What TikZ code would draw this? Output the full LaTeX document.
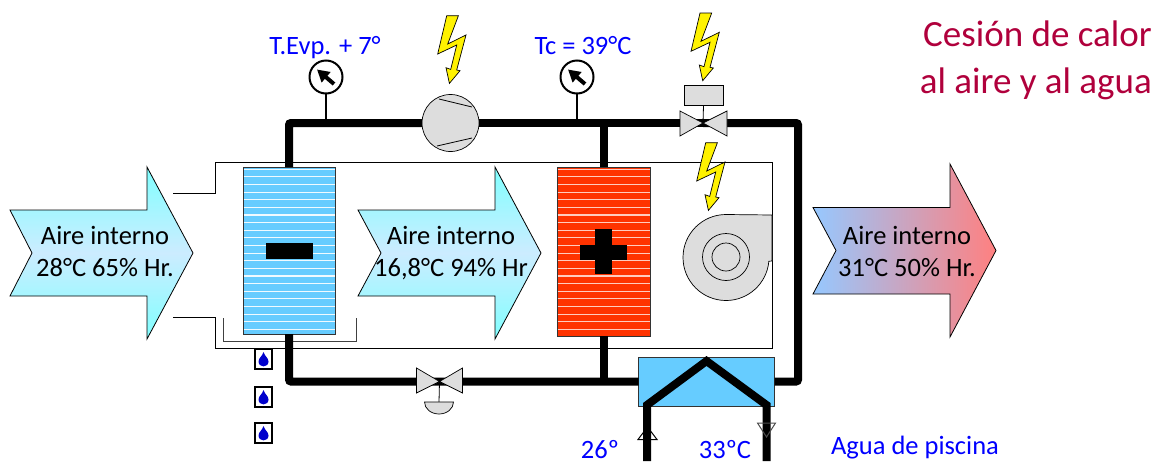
\documentclass[tikz,border=0pt]{standalone}
\usepackage{fontspec}
\setmainfont{Carlito}
\usepackage{tikz}
\usetikzlibrary{arrows.meta,calc}
\definecolor{hpblue}{RGB}{0,0,255}
\definecolor{hptitle}{RGB}{176,0,60}
\definecolor{hpcoil}{RGB}{102,204,255}
\definecolor{hpred}{RGB}{255,51,0}
\definecolor{hpgrey}{RGB}{221,221,221}
\definecolor{hpcyan}{RGB}{128,255,255}
\definecolor{hppale}{RGB}{204,236,255}
\definecolor{hpcold}{RGB}{150,200,255}
\definecolor{hpwarm}{RGB}{255,128,128}
\tikzstyle{pipe} = [line width=8pt, rounded corners=2pt, color=black]
\tikzstyle{thinline} = [line width=0.8pt, color=black]
\tikzstyle{coil} = [rectangle, draw=black!80, line width=0.7pt, inner sep=0pt, outer sep=0pt]
\tikzstyle{part} = [draw=black, fill=hpgrey, line width=0.7pt, line join=miter]
\tikzstyle{gauge} = [circle, draw=black, fill=white, line width=2pt, minimum size=33pt, inner sep=0pt, outer sep=0pt]
\tikzstyle{bolt} = [draw=black, fill=yellow, line width=0.7pt, line join=miter]
\tikzstyle{airtext} = [align=center, font=\fontsize{26.5}{32}\selectfont, inner sep=0pt]
\tikzstyle{bluetext} = [text=hpblue, font=\fontsize{26.5}{30}\selectfont, inner sep=0pt, anchor=base]
\tikzstyle{dropbox} = [rectangle, draw=black, fill=white, line width=1.2pt, minimum width=17pt, minimum height=20pt, inner sep=0pt]
\begin{document}
\begin{tikzpicture}[x=1pt, y=-1pt]
    \useasboundingbox (0,0) rectangle (1155,461);

    % Air duct
    \draw[thinline] (173,193) -- (215,193) -- (215,162) -- (772,162) -- (772,348) -- (215,348) -- (215,317) -- (173,317);
    \draw[thinline, black!75] (223,318) -- (223,341) -- (356,341) -- (356,318);

    % Main parts
    \node[coil, fill=hpcoil, minimum width=92pt, minimum height=167pt] (evap) at (289,250.5) {};
    \node[coil, fill=hpred, minimum width=93pt, minimum height=169pt] (cond) at (603.5,251.5) {};
    \node[coil, fill=hpcoil, minimum width=136pt, minimum height=49pt] (hx) at (706.7,381.5) {};
    \node[circle, part, minimum size=57pt, inner sep=0pt, outer sep=0pt] (comp) at (450.5,123) {};
    \coordinate (tvalve) at (703,123);
    \coordinate (evalve) at (439.5,381.5);
    \coordinate (rcorner) at (798,381.5);

    % Coil fins
    \foreach \i in {0,...,21} {
        \draw[white!90!hpcoil, line width=1.1pt] (243.5,169.3+7.62*\i) -- (334.5,169.3+7.62*\i);
        \draw[white!75!hpred, line width=1.1pt] (557.5,169.3+7.62*\i) -- (649.5,169.3+7.62*\i);
    }
    \node[fill=black, minimum width=47pt, minimum height=16pt, inner sep=0pt] (minus) at (289.5,251) {};
    \node[fill=black, minimum width=47pt, minimum height=15pt, inner sep=0pt] (plush) at (603.5,252.5) {};
    \node[fill=black, minimum width=17pt, minimum height=45pt, inner sep=0pt] (plusv) at (603.5,251.5) {};

    % Pipes
    \draw[pipe] (evap.north) |- (comp.west);
    \draw[pipe] (comp.east) -- (tvalve);
    \draw[pipe] (tvalve) -| (rcorner) -- (hx.east);
    \draw[pipe] (evap.south) |- (hx.west);
    \draw[pipe] (cond.north) -- (cond.north |- comp.east);
    \draw[pipe] (cond.south) -- (cond.south |- hx.west);

    % Compressor
    \draw[thinline] (439,99) -- (472,107);
    \draw[thinline] (437,146) -- (472,138);

    % Gauges
    \node[gauge] (gevap) at (326,77) {};
    \node[gauge] (gcond) at (577,77) {};
    \draw[line width=2pt] (gevap.south) -- (gevap.south |- comp.center);
    \draw[line width=2pt] (gcond.south) -- (gcond.south |- comp.center);
    \foreach \g in {gevap,gcond}
        \draw[line width=4pt, -{Triangle[length=12pt,width=13pt]}] ([shift={(8,7)}]\g.center) -- ([shift={(-9,-7.5)}]\g.center);

    % Valves
    \draw[part] (tvalve) -- (680,111) -- (680,136) -- cycle;
    \draw[part] (tvalve) -- (727,111) -- (727,136) -- cycle;
    \node[part, minimum width=39pt, minimum height=20pt, inner sep=0pt, outer sep=0pt] (tvhead) at (703.5,95.5) {};
    \draw[thinline] (tvhead.south) -- (tvalve);
    \draw[part] (evalve) -- (416.5,368) -- (416.5,393) -- cycle;
    \draw[part] (evalve) -- (462.5,368) -- (462.5,393) -- cycle;
    \coordinate (evdisc) at (439,402);
    \draw[thinline] (evalve) -- (evdisc);
    \draw[part] (424.5,402) arc[start angle=180, end angle=360, x radius=14.5pt, y radius=12pt] -- cycle;

    % Fan
    \draw[part] (772,215) -- (726,214.5) arc[start angle=90, end angle=355, radius=43pt] -- (772,261) -- cycle;
    \node[circle, draw=black, line width=0.7pt, minimum size=47pt, inner sep=0pt] (fanout) at (726,257) {};
    \node[circle, draw=black, line width=0.7pt, minimum size=28pt, inner sep=0pt] (fanin) at (726,257) {};

    % Exchanger loop
    \draw[line width=8pt, line join=miter] (647,461) -- (647,405) -- (706.5,361) -- (766.5,405) -- (766.5,461);
    \draw[line width=1pt] (647.5,427) -- (638,439.5) -- (657,439.5) -- cycle;
    \draw[line width=1pt, black!70] (757.5,423) -- (775.5,423) -- (766.5,437) -- cycle;

    % Lightning
    \foreach \bx/\by in {446.7/15.7, 700/13, 705.7/142.7}
        \draw[bolt, shift={(\bx,\by)}] (0,0) -- (11.7,0) -- (1,28.3) -- (19.3,19.3) -- (10,54.3) -- (13.3,55) -- (2.7,67.7) -- (-0.7,52) -- (4,53.7) -- (10,29.3) -- (-9,38.3) -- cycle;

    % Condensate drops
    \foreach \dy/\dn in {359/dropa, 397/dropb, 433/dropc} {
        \node[dropbox] (\dn) at (263.5,\dy) {};
        \fill[blue!80!black, shift={(263.5,\dy)}] (0,-7) .. controls (1,-3) and (5,-1) .. (5,2.5) .. controls (5,9) and (-5,9) .. (-5,2.5) .. controls (-5,-1) and (-1,-3) .. (0,-7) -- cycle;
    }

    % Air arrows
    \path[draw=black, line width=0.8pt, top color=hpcyan, bottom color=hpcyan, middle color=hppale] (10,210) -- (147,210) -- (147,167) -- (193,253) -- (147,339) -- (147,296) -- (10,296) -- (32,253) -- cycle;
    \path[draw=black, line width=0.8pt, top color=hpcyan, bottom color=hpcyan, middle color=hppale] (358,210) -- (495,210) -- (495,167) -- (541,253) -- (495,339) -- (495,296) -- (358,296) -- (381,253) -- cycle;
    \path[draw=black, line width=0.8pt, left color=hpcold, right color=hpwarm] (813,207.5) -- (950,207.5) -- (950,164) -- (996,250.5) -- (950,337) -- (950,294) -- (813,294) -- (836,250.5) -- cycle;

    % Labels
    \node[airtext] (aira) at (105,251) {Aire interno\\28°C 65\% Hr.};
    \node[airtext] (airb) at (451,253) {Aire interno\\16,8°C 94\% Hr};
    \node[airtext] (airc) at (907,251) {Aire interno\\31°C 50\% Hr.};
    \node[bluetext] (tevp) at (325,54) {T.Evp. + 7°};
    \node[bluetext] (tcond) at (583,54) {Tc = 39°C};
    \node[bluetext] (tin) at (600,458) {26º};
    \node[bluetext] (tout) at (725,458) {33ºC};
    \node[bluetext] (agua) at (915,454) {Agua de piscina};
    \node[text=hptitle, font=\fontsize{37}{47}\selectfont, align=right, anchor=east, inner sep=0pt] (title) at (1152,60) {Cesión de calor\\al aire y al agua};
\end{tikzpicture}
\end{document}
